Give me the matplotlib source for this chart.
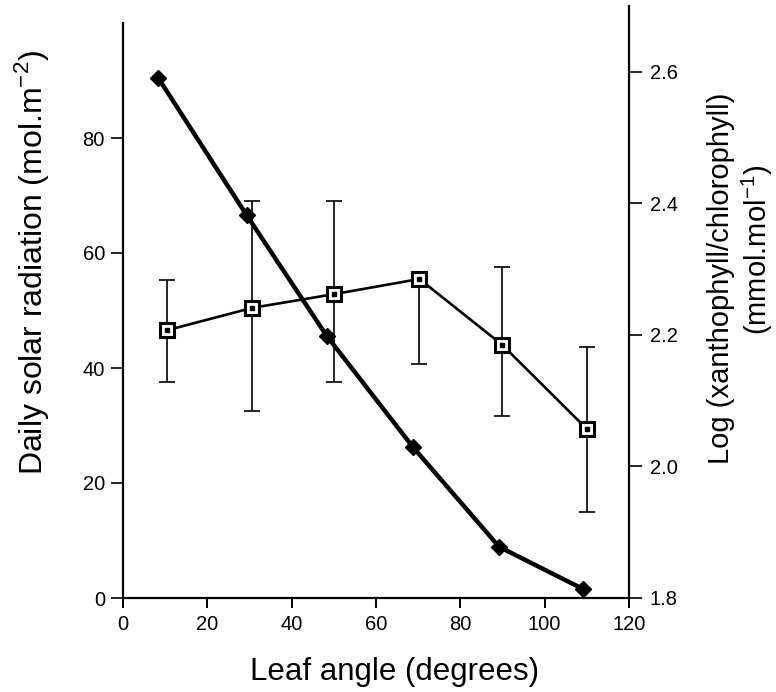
import matplotlib
matplotlib.use("Agg")
import matplotlib.pyplot as plt

plt.rcParams['font.family'] = ['Liberation Sans', 'DejaVu Sans']

# Daily solar radiation (left axis), filled markers
angle_rad = [8.4, 29.3, 48.3, 68.7, 89.2, 109.0]
radiation = [90.4, 66.6, 45.6, 26.3, 8.9, 1.6]

# Log(xanthophyll/chlorophyll) (right axis), open squares with error bars
angle_xc = [10.4, 30.6, 50.1, 70.3, 89.9, 110.0]
log_ratio = [2.207, 2.241, 2.262, 2.285, 2.185, 2.057]
err_hi = [2.283, 2.403, 2.403, 2.296, 2.303, 2.182]
err_lo = [2.128, 2.084, 2.128, 2.156, 2.076, 1.931]

x_ticks = [0, 20, 40, 60, 80, 100, 120]
left_ticks = [0, 20, 40, 60, 80]
right_ticks = [1.8, 2.0, 2.2, 2.4, 2.6]

fig = plt.figure(figsize=(7.76, 6.92), dpi=100)
ax1 = fig.add_axes([123 / 776, 94 / 692, 506 / 776, 592 / 692])
ax2 = ax1.twinx()

# right series
yerr = [[v - lo for v, lo in zip(log_ratio, err_lo)],
        [hi - v for v, hi in zip(log_ratio, err_hi)]]
ax2.errorbar(angle_xc, log_ratio, yerr=yerr, fmt='none', ecolor='black',
             elinewidth=1.2, capsize=6, capthick=1.2, zorder=2)
ax2.plot(angle_xc, log_ratio, color='black', lw=1.9, marker='s', markersize=10,
         markerfacecolor='white', markeredgecolor='black', markeredgewidth=2.2, zorder=3)
ax2.plot(angle_xc, log_ratio, ls='none', marker='s', markersize=2.2,
         color='black', zorder=4)

# left series
ax1.plot(angle_rad, radiation, color='black', lw=3.2, marker='D', markersize=8,
         markerfacecolor='black', markeredgecolor='black', zorder=5)
ax1.set_zorder(ax2.get_zorder() + 1)
ax1.patch.set_visible(False)

ax1.set_xlim(0, 120)
ax1.set_ylim(0, 592 / 5.75)
ax2.set_ylim(1.8, 2.7)

for ax in (ax1, ax2):
    ax.spines['top'].set_visible(False)
ax1.spines['right'].set_visible(False)
ax2.spines['left'].set_visible(False)
ax2.spines['bottom'].set_visible(False)
ax1.spines['left'].set_bounds(0, 100)
ax1.spines['bottom'].set_bounds(0, 120)
for s in ('left', 'bottom'):
    ax1.spines[s].set_linewidth(1.6)
ax2.spines['right'].set_linewidth(1.6)

ax1.set_xticks(x_ticks)
ax1.set_yticks(left_ticks)
ax2.set_yticks(right_ticks)
ax2.set_yticklabels([f"{v:.1f}" for v in right_ticks])

ax1.tick_params(axis='x', direction='out', length=7, width=1.4, labelsize=14.5, pad=5)
ax1.tick_params(axis='y', direction='out', length=9, width=1.2, labelsize=14.5, pad=4)
ax2.tick_params(axis='y', direction='out', length=9, width=1.2, labelsize=14.5, pad=6)

fig.text(395 / 776, 1 - 672 / 692, 'Leaf angle (degrees)', fontsize=22.5,
         ha='center', va='center')
fig.text(32 / 776, 1 - 262 / 692, 'Daily solar radiation (mol.m$^{\\mathregular{-2}}$)',
         fontsize=23, rotation=90, ha='center', va='center')
fig.text(721 / 776, 1 - 278 / 692, 'Log (xanthophyll/chlorophyll)', fontsize=21,
         rotation=90, ha='center', va='center')
fig.text(757 / 776, 1 - 250 / 692, '(mmol.mol$^{\\mathregular{-1}}$)', fontsize=21,
         rotation=90, ha='center', va='center')

fig.savefig('out.png', dpi=100, facecolor='white')
